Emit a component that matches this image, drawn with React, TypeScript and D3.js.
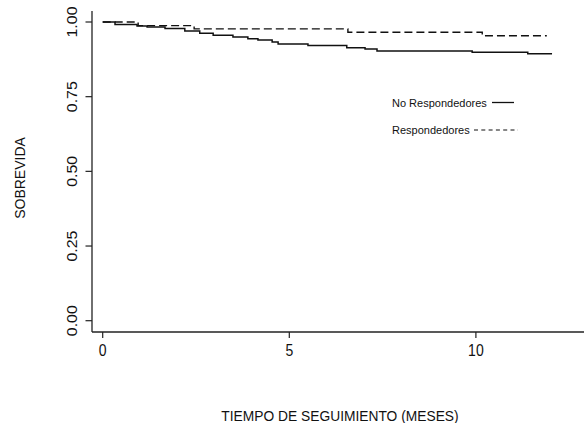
import React, { useEffect, useRef } from "react";
import * as d3 from "d3";

// Kaplan–Meier survival estimates (time in months, survival proportion)
const noRespTimes = [0, 0.33, 0.92, 1.19, 1.67, 2.2, 2.6, 2.96, 3.49, 3.89, 4.16, 4.54, 4.7, 5.5, 6.54, 7.03, 7.35, 9.9, 11.39, 12.04];
const noRespSurv = [1.0, 0.992, 0.987, 0.983, 0.978, 0.970, 0.962, 0.9555, 0.950, 0.944, 0.940, 0.933, 0.926, 0.921, 0.914, 0.910, 0.903, 0.899, 0.894, 0.894];

const respTimes = [0, 0.95, 2.45, 6.57, 10.17, 11.9];
const respSurv = [1.0, 0.988, 0.977, 0.9655, 0.954, 0.954];

const xTicks = [0, 5, 10];
const yTicks = [0, 0.25, 0.5, 0.75, 1.0];

const legendLabels = ["No Respondedores", "Respondedores"];

const W = 584;
const H = 423;

export default function App() {
  const ref = useRef<SVGSVGElement | null>(null);

  useEffect(() => {
    const svg = d3.select(ref.current);
    svg.selectAll("*").remove();

    const x = d3.scaleLinear().domain([0, 5]).range([102.7, 289.3]);
    const y = d3.scaleLinear().domain([0, 1]).range([320.7, 22]);
    const font = "Liberation Sans, Arial, Helvetica, sans-serif";
    const axisColor = "#222";

    // y axis
    svg.append("line").attr("x1", 92).attr("x2", 92).attr("y1", 11).attr("y2", 332)
      .attr("stroke", axisColor).attr("stroke-width", 1.3);
    yTicks.forEach((v) => {
      svg.append("line").attr("x1", 85.5).attr("x2", 92).attr("y1", y(v)).attr("y2", y(v))
        .attr("stroke", axisColor).attr("stroke-width", 1.2);
      svg.append("text")
        .attr("transform", `translate(77,${y(v)}) rotate(-90) scale(1.1,1)`)
        .attr("text-anchor", "middle")
        .attr("font-family", font).attr("font-size", 14.5).attr("fill", "#111")
        .text(d3.format(".2f")(v));
    });

    // x axis
    svg.append("line").attr("x1", 92).attr("x2", W).attr("y1", 332).attr("y2", 332)
      .attr("stroke", axisColor).attr("stroke-width", 1.3);
    xTicks.forEach((v) => {
      svg.append("line").attr("x1", x(v)).attr("x2", x(v)).attr("y1", 332).attr("y2", 338)
        .attr("stroke", axisColor).attr("stroke-width", 1.2);
      svg.append("text")
        .attr("transform", `translate(${x(v)},355.5) scale(1,1.15)`)
        .attr("text-anchor", "middle")
        .attr("font-family", font).attr("font-size", 14).attr("fill", "#111")
        .text(String(v));
    });

    // axis titles
    svg.append("text")
      .attr("transform", `translate(25,178) rotate(-90)`)
      .attr("text-anchor", "middle")
      .attr("font-family", font).attr("font-size", 14).attr("fill", "#111")
      .text("SOBREVIDA");
    svg.append("text")
      .attr("transform", `translate(340,421) scale(1,1.12)`)
      .attr("text-anchor", "middle")
      .attr("font-family", font).attr("font-size", 13.8).attr("fill", "#111")
      .text("TIEMPO DE SEGUIMIENTO (MESES)");

    const line = d3.line<[number, number]>()
      .x((d) => x(d[0]))
      .y((d) => y(d[1]))
      .curve(d3.curveStepAfter);

    const noResp: [number, number][] = noRespTimes.map((t, i) => [t, noRespSurv[i]]);
    const resp: [number, number][] = respTimes.map((t, i) => [t, respSurv[i]]);

    svg.append("path").attr("d", line(resp) || "")
      .attr("fill", "none").attr("stroke", "#111").attr("stroke-width", 1.4)
      .attr("stroke-dasharray", "8,4");
    svg.append("path").attr("d", line(noResp) || "")
      .attr("fill", "none").attr("stroke", "#111").attr("stroke-width", 1.5);

    // legend
    const lg = svg.append("g");
    lg.append("text").attr("x", 392).attr("y", 106.5)
      .attr("font-family", font).attr("font-size", 11).attr("fill", "#111")
      .text(legendLabels[0]);
    lg.append("line").attr("x1", 492).attr("x2", 514).attr("y1", 102.5).attr("y2", 102.5)
      .attr("stroke", "#111").attr("stroke-width", 1.3);
    lg.append("text").attr("x", 392).attr("y", 134)
      .attr("font-family", font).attr("font-size", 11).attr("fill", "#111")
      .text(legendLabels[1]);
    lg.append("line").attr("x1", 474).attr("x2", 518).attr("y1", 130).attr("y2", 130)
      .attr("stroke", "#111").attr("stroke-width", 1.1).attr("stroke-dasharray", "4,3.3");
  }, []);

  return (
    <svg
      ref={ref}
      width={W}
      height={H}
      style={{ position: "absolute", left: 0, top: 0, background: "#fff" }}
    />
  );
}
